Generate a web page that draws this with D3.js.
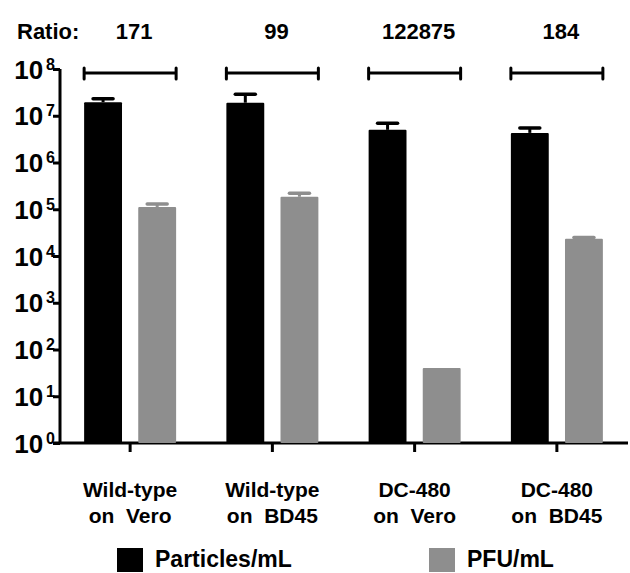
<!DOCTYPE html>
<html>
<head>
<meta charset="utf-8">
<script src="https://cdn.jsdelivr.net/npm/d3@7"></script>
<style>
  body { margin: 0; background: #fff; }
  svg text { font-family: "Liberation Sans", Arial, sans-serif; font-weight: bold; fill: #000; }
</style>
</head>
<body>
<div id="chart"></div>
<script>
// Data
var categories = ["Wild-type|on  Vero", "Wild-type|on  BD45", "DC-480|on  Vero", "DC-480|on  BD45"];
var series = ["Particles/mL", "PFU/mL"];
var particles = [1.95e7, 1.9e7, 5.0e6, 4.3e6];
var particlesErr = [2.3e7, 2.9e7, 6.9e6, 5.5e6];
var pfu = [1.12e5, 1.85e5, 40, 2.33e4];
var pfuErr = [1.3e5, 2.2e5, 40, 2.5e4];
var ratios = ["171", "99", "122875", "184"];
var yTicks = [1, 10, 100, 1e3, 1e4, 1e5, 1e6, 1e7, 1e8];

var svgWidth = 630;
var svgHeight = 573;
var colors = ["#000000", "#8e8e8e"];

var svg = d3.select("#chart")
  .append("svg")
  .attr("width", svgWidth)
  .attr("height", svgHeight);

// scales
var x = d3.scaleBand()
  .domain(categories)
  .range([60, 629])
  .padding(0);

var xInner = d3.scaleBand()
  .domain(series)
  .range([-46, 46])
  .paddingInner(0.3);

var y = d3.scaleLog()
  .domain([1, 1e8])
  .range([443, 69]);

function cx(c) { return x(c) + x.bandwidth() / 2 - 1; }

// y axis
var yAxisG = svg.append("g")
  .attr("transform", "translate(60,0)")
  .call(d3.axisLeft(y).tickValues(yTicks).tickSize(7).tickFormat(""));
yAxisG.select(".domain").attr("d", "M0," + y(1e8) + "V" + y(1));
yAxisG.selectAll("path, line").attr("stroke", "#000").attr("stroke-width", 3);

yAxisG.selectAll(".tick").append("text")
  .attr("x", -5)
  .attr("y", 9)
  .attr("text-anchor", "end")
  .style("font-size", "26px")
  .each(function(d) {
    var t = d3.select(this);
    t.append("tspan").text("10");
    t.append("tspan")
      .attr("dx", 3)
      .attr("dy", -9)
      .style("font-size", "16px")
      .text(Math.round(Math.log10(d)));
  });

// x axis
var xAxisG = svg.append("g")
  .attr("transform", "translate(0," + y(1) + ")")
  .call(d3.axisBottom(x).tickSize(9).tickFormat(""));
xAxisG.select(".domain").attr("d", "M53,0H628");
xAxisG.selectAll(".tick").attr("transform", function(d) { return "translate(" + cx(d) + ",0)"; });
xAxisG.selectAll("path, line").attr("stroke", "#000").attr("stroke-width", 3);

// category labels (two lines)
var labels = svg.append("g").selectAll("text")
  .data(categories)
  .enter()
  .append("text")
  .attr("text-anchor", "middle")
  .style("font-size", "21px")
  .style("white-space", "pre")
  .attr("xml:space", "preserve");
labels.each(function(c) {
  var parts = c.split("|");
  var t = d3.select(this);
  t.append("tspan").attr("x", cx(c)).attr("y", 497).text(parts[0]);
  t.append("tspan").attr("x", cx(c)).attr("y", 523).text(parts[1]);
});

// bars
var groups = svg.append("g").selectAll("g")
  .data(categories)
  .enter()
  .append("g")
  .attr("transform", function(c) { return "translate(" + cx(c) + ",0)"; });

var barData = function(c, i) {
  return [
    { s: series[0], v: particles[i], e: particlesErr[i] },
    { s: series[1], v: pfu[i], e: pfuErr[i] }
  ];
};

groups.each(function(c, i) {
  var g = d3.select(this);
  var d = barData(c, i);

  // error bars (upper only)
  g.selectAll("line.err")
    .data(d.filter(function(b) { return b.e > b.v; }))
    .enter()
    .append("line")
    .attr("class", "err")
    .attr("x1", function(b) { return xInner(b.s) + xInner.bandwidth() / 2; })
    .attr("x2", function(b) { return xInner(b.s) + xInner.bandwidth() / 2; })
    .attr("y1", function(b) { return y(b.v); })
    .attr("y2", function(b) { return y(b.e); })
    .attr("stroke", function(b) { return colors[series.indexOf(b.s)]; })
    .attr("stroke-width", 3);
  g.selectAll("line.cap")
    .data(d.filter(function(b) { return b.e > b.v; }))
    .enter()
    .append("line")
    .attr("class", "cap")
    .attr("x1", function(b) { return xInner(b.s) + xInner.bandwidth() / 2 - 10; })
    .attr("x2", function(b) { return xInner(b.s) + xInner.bandwidth() / 2 + 10; })
    .attr("y1", function(b) { return y(b.e); })
    .attr("y2", function(b) { return y(b.e); })
    .attr("stroke", function(b) { return colors[series.indexOf(b.s)]; })
    .attr("stroke-width", 3.5)
    .attr("stroke-linecap", "round");

  g.selectAll("rect")
    .data(d)
    .enter()
    .append("rect")
    .attr("x", function(b) { return xInner(b.s); })
    .attr("width", xInner.bandwidth())
    .attr("y", function(b) { return y(b.v); })
    .attr("height", function(b) { return y(1) - y(b.v); })
    .attr("rx", 1)
    .attr("fill", function(b) { return colors[series.indexOf(b.s)]; });

  // ratio bracket
  var bx0 = xInner(series[0]);
  var bx1 = xInner(series[1]) + xInner.bandwidth();
  var by = y(1e8) + 4;
  g.append("path")
    .attr("d", "M" + bx0 + "," + by + "H" + bx1 + "M" + bx0 + "," + (by - 5) + "V" + (by + 6) + "M" + bx1 + "," + (by - 5) + "V" + (by + 6))
    .attr("fill", "none")
    .attr("stroke", "#000")
    .attr("stroke-width", 3)
    .attr("stroke-linecap", "round");

  g.append("text")
    .attr("x", 4)
    .attr("y", 39)
    .attr("text-anchor", "middle")
    .style("font-size", "22px")
    .text(ratios[i]);
});

svg.append("text")
  .attr("x", 17)
  .attr("y", 39)
  .style("font-size", "22px")
  .text("Ratio:");

// legend
var legendX = [117, 429];
var legend = svg.append("g").selectAll("g")
  .data(series)
  .enter()
  .append("g")
  .attr("transform", function(s, i) { return "translate(" + legendX[i] + ",548)"; });
legend.append("rect")
  .attr("width", 26)
  .attr("height", 24)
  .attr("fill", function(s, i) { return colors[i]; });
legend.append("text")
  .attr("x", 38)
  .attr("y", 19)
  .style("font-size", "23px")
  .text(function(s) { return s; });
</script>
</body>
</html>
